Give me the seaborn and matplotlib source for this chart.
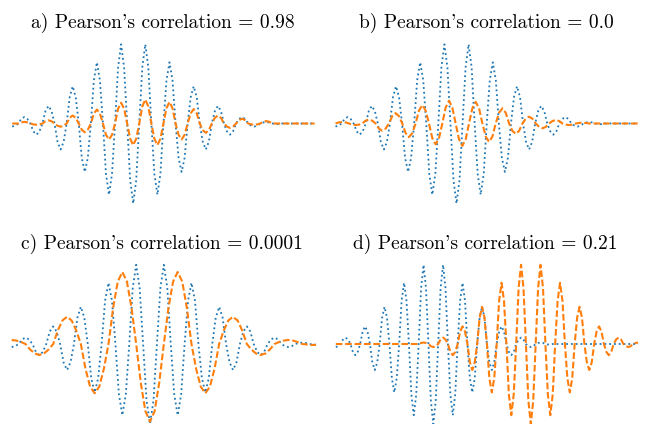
import numpy as np
import matplotlib
matplotlib.use("Agg")
import matplotlib.pyplot as plt
import seaborn as sns

# ---------------- data ----------------
titles = ["a) Pearson's correlation = 0.98",
          "b) Pearson's correlation = 0.0",
          "c) Pearson's correlation = 0.0001",
          "d) Pearson's correlation = 0.21"]

# reference wave-packet (blue), sampled every quarter half-period
blue_wave = [
    -0.038, -0.027, 0, 0.057, 0.08, 0.057, 0, -0.099, -0.14, -0.099,
    0, 0.156, 0.22, 0.156, 0, -0.23, -0.325, -0.23, 0, 0.329,
    0.465, 0.329, 0, -0.428, -0.605, -0.428, 0, 0.541, 0.765, 0.541,
    0, -0.629, -0.89, -0.629, 0, 0.70, 0.99, 0.70, 0, -0.707,
    -1.0, -0.707, 0, 0.70, 0.99, 0.70, 0, -0.629, -0.89, -0.629,
    0, 0.541, 0.765, 0.541, 0, -0.428, -0.605, -0.428, 0, 0.329,
    0.465, 0.329, 0, -0.23, -0.325, -0.23, 0, 0.156, 0.22, 0.156,
    0, -0.099, -0.14, -0.099, 0, 0.057, 0.08, 0.057, 0, -0.027,
    -0.038, -0.027, 0, 0.013, 0.018, 0.013, 0, -0.006, -0.008, 0,
    0, 0, 0, 0, 0, 0, 0, 0, 0, 0,
    0, 0, 0, 0, 0, 0, 0, 0, 0, 0,
    0, 0, 0, 0, 0, 0, 0, 0, 0, 0,
    0, 0, 0, 0, 0]

orange_a = [
    0, 0, 0, 0.014, 0.02, 0.014, 0, -0.011, -0.015, -0.011,
    0, 0.028, 0.04, 0.028, 0, -0.028, -0.04, -0.028, 0, 0.071,
    0.1, 0.071, 0, -0.078, -0.11, -0.078, 0, 0.124, 0.175, 0.124,
    0, -0.141, -0.2, -0.141, 0, 0.184, 0.26, 0.184, 0, -0.191,
    -0.27, -0.191, 0, 0.212, 0.30, 0.212, 0, -0.191, -0.27, -0.191,
    0, 0.191, 0.27, 0.191, 0, -0.141, -0.2, -0.141, 0, 0.127,
    0.18, 0.127, 0, -0.083, -0.117, -0.083, 0, 0.071, 0.1, 0.071,
    0, -0.039, -0.055, -0.039, 0, 0.042, 0.06, 0.042, 0, -0.011,
    -0.015, -0.011, 0, 0.021, 0.03, 0.021, 0, 0, 0, 0,
    0, 0, 0, 0, 0, 0, 0, 0, 0, 0, 0]

orange_b = [
    0, 0.014, 0.02, 0.014, 0, -0.014, -0.02, -0.014, 0, 0.035,
    0.05, 0.035, 0, -0.064, -0.09, -0.064, 0, 0.092, 0.13, 0.092,
    0, -0.12, -0.17, -0.12, 0, 0.163, 0.23, 0.163, 0, -0.184,
    -0.26, -0.184, 0, 0.2, 0.285, 0.2, 0, -0.198, -0.28, -0.198,
    0, 0.191, 0.27, 0.191, 0, -0.163, -0.23, -0.163, 0, 0.134,
    0.19, 0.134, 0, -0.092, -0.13, -0.092, 0, 0.06, 0.085, 0.06,
    0, -0.042, -0.06, -0.042, 0, 0.031, 0.044, 0.031, 0, -0.014,
    -0.02, -0.014, 0, 0.007, 0.01, 0.007, 0, 0, 0, 0,
    0, 0, 0, 0, 0, 0, 0, 0, 0, 0, 0, 0]

orange_c = [
    0.05, 0.043, 0.025, 0, -0.069, -0.119, -0.1375, -0.119, -0.069, 0,
    0.17, 0.294, 0.34, 0.294, 0.17, 0, -0.308, -0.533, -0.616, -0.533,
    -0.308, 0, 0.45, 0.779, 0.9, 0.779, 0.45, 0, -0.485, -0.84,
    -0.97, -0.84, -0.485, 0, 0.45, 0.779, 0.9, 0.779, 0.45, 0,
    -0.308, -0.533, -0.616, -0.533, -0.308, 0, 0.17, 0.294, 0.34, 0.294,
    0.17, 0, -0.069, -0.119, -0.1375, -0.119, -0.069, 0, 0.025, 0.043,
    0.05, 0.043, 0.025, 0, -0.006, -0.011, -0.0125]

orange_d = [
    0, 0, 0, 0, 0, 0, 0, 0, 0, 0,
    0, 0, 0, 0, 0, 0, 0, 0, 0, 0,
    0, 0, 0, 0, 0, 0, 0, 0, 0, 0,
    0, 0, 0, 0, 0, 0.013, 0.018, 0.013, 0, -0.027,
    -0.038, -0.027, 0, 0.057, 0.08, 0.057, 0, -0.099, -0.14, -0.099,
    0, 0.156, 0.22, 0.156, 0, -0.23, -0.325, -0.23, 0, 0.329,
    0.465, 0.329, 0, -0.428, -0.605, -0.428, 0, 0.541, 0.765, 0.541,
    0, -0.629, -0.89, -0.629, 0, 0.70, 0.99, 0.70, 0, -0.707,
    -1.0, -0.707, 0, 0.70, 0.99, 0.70, 0, -0.629, -0.89, -0.629,
    0, 0.541, 0.765, 0.541, 0, -0.428, -0.605, -0.428, 0, 0.329,
    0.465, 0.329, 0, -0.23, -0.325, -0.23, 0, 0.156, 0.22, 0.156,
    0, -0.099, -0.14, -0.099, 0, 0.057, 0.08, 0.057, 0, -0.027,
    -0.038, -0.027, 0, 0.013, 0.018]

# sample timing of each series: (first sample time, sample step, number of samples)
blue_timing = [(0.5, 3.025, 101), (0.5, 3.025, 101), (0.0, 3.458, 89), (0.8, 2.4375, 125)]
orange_timing = [(0.5, 3.025), (0.525, 3.3375), (0.0, 4.61), (0.8, 2.4375)]
orange_series = [orange_a, orange_b, orange_c, orange_d]

# ---------------- layout / style ----------------
sns.set_theme(style="white")
plt.rcParams['font.family'] = ['cmr10', 'DejaVu Serif']
plt.rcParams['axes.unicode_minus'] = False

W, H = 653, 424
fig = plt.figure(figsize=(W / 100, H / 100), dpi=100)

# panel placement in pixels: (x of t=0, baseline y, title centre x, title baseline y)
place = [(11.7, 123.5, 162.5, 27.5), (335.0, 123.5, 486.7, 27.5),
         (11.7, 344.0, 161.7, 248.5), (335.0, 344.0, 485.0, 248.5)]

BLUE = "#1f77b4"
ORANGE = "#ff7f0e"

for i in range(4):
    x0, base, tx, ty = place[i]
    ax = fig.add_axes([(x0 - 5) / W, 1 - (base + 88) / H, 315 / W, 176 / H])
    ax.set_xlim(-5, 310)
    ax.set_ylim(-1.1, 1.1)
    ax.axis("off")

    b0, bs, bn = blue_timing[i]
    tb = b0 + bs * np.arange(bn)
    yb = np.array(blue_wave[:bn], dtype=float)
    sns.lineplot(x=tb, y=yb, ax=ax, color=BLUE, linestyle=":", linewidth=1.3,
                 estimator=None, sort=False)

    o0, os_ = orange_timing[i]
    yo = np.array(orange_series[i], dtype=float)
    to = o0 + os_ * np.arange(len(yo))
    sns.lineplot(x=to, y=yo, ax=ax, color=ORANGE, linestyle=(0, (3.2, 1.3)),
                 linewidth=1.5, estimator=None, sort=False)

    fig.text(tx / W, 1 - ty / H, titles[i], ha="center", va="baseline",
             fontsize=14, color="black")

fig.savefig("out.png", dpi=100, facecolor="white")
